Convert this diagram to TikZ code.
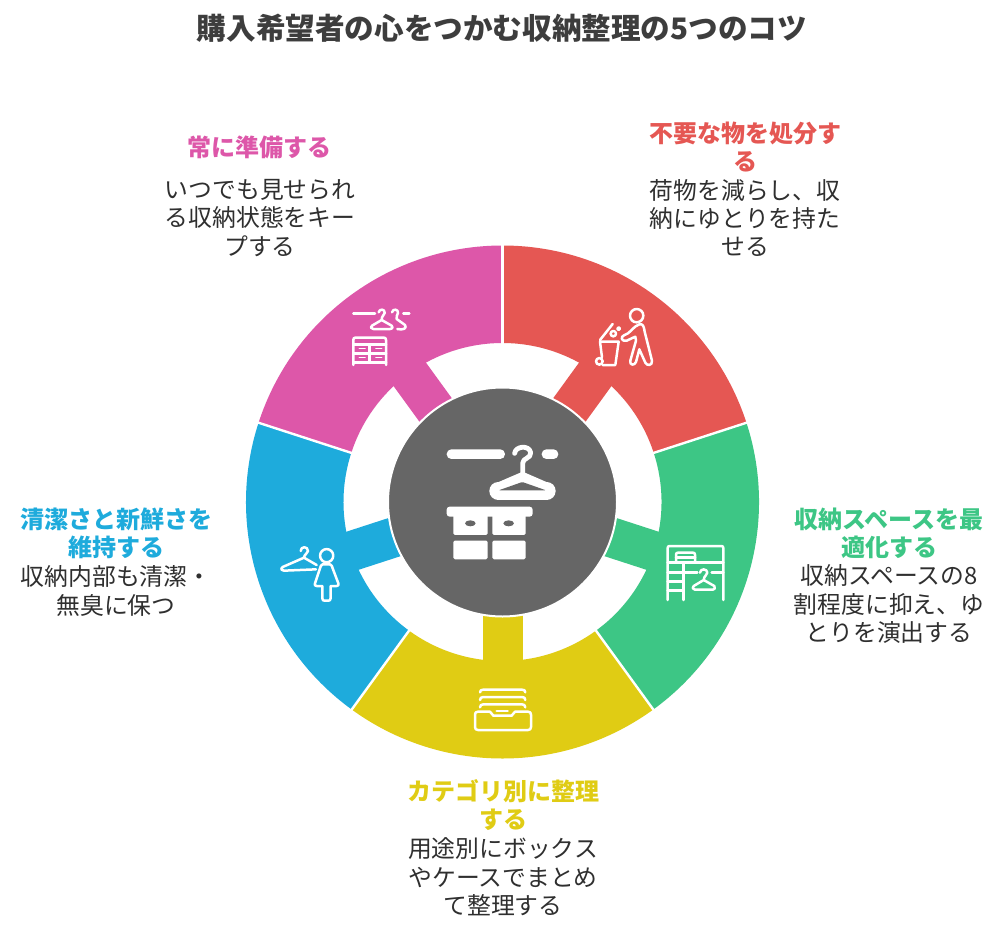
\documentclass[tikz,border=0pt]{standalone}
\usepackage{fontspec}
\setmainfont{Noto Sans CJK JP}
\definecolor{cred}{HTML}{E55753}
\definecolor{cgreen}{HTML}{3DC685}
\definecolor{cyellow}{HTML}{E0CC14}
\definecolor{cblue}{HTML}{1EABDC}
\definecolor{cpink}{HTML}{DD57A9}
\definecolor{ccenter}{HTML}{666666}
\definecolor{ctitle}{HTML}{3D3D3D}
\definecolor{ctext}{HTML}{2F2F2F}
\tikzset{
  headtext/.style={inner sep=0pt,align=center,font=\fontsize{24}{28}\selectfont\bfseries},
  bodytext/.style={inner sep=0pt,align=center,text=ctext,font=\fontsize{23.8}{28.4}\selectfont},
  titletext/.style={inner sep=0pt,text=ctitle,font=\fontsize{29.6}{34}\selectfont\bfseries},
  iconline/.style={draw=white,line width=2.5pt,line cap=round,line join=round},
  zoomed/.style={shift={(#1)},x=0.3333pt,y=-0.3333pt}
}
\newcommand{\ringseg}[3]{%
  \fill[#1] (#2:256.5pt) arc[start angle=#2,end angle=#3,radius=256.5pt]
     -- (#3:159pt) arc[start angle=#3,end angle=#2,radius=159pt] -- cycle;
}
\begin{document}
\begin{tikzpicture}[x=1pt,y=1pt]
\useasboundingbox (0,-945) rectangle (1000,0);
\fill[white] (0,-945) rectangle (1000,0);
\node[titletext] (title) at (502,-28) {購入希望者の心をつかむ収納整理の5つのコツ};

% ring
\begin{scope}[shift={(502.5pt,-502pt)}]
\ringseg{cred}{18}{90}
\ringseg{cgreen}{-54}{18}
\ringseg{cyellow}{-126}{-54}
\ringseg{cblue}{162}{234}
\ringseg{cpink}{90}{162}
\draw[cred,line width=40pt] (54:100pt) -- (54:165pt);
\draw[cgreen,line width=40pt] (-18:100pt) -- (-18:165pt);
\draw[cyellow,line width=40pt] (-90:100pt) -- (-90:165pt);
\draw[cblue,line width=40pt] (198:100pt) -- (198:165pt);
\draw[cpink,line width=40pt] (126:100pt) -- (126:165pt);
\foreach \a in {90,18,-54,-126,162} \draw[white,line width=2.4pt] (\a:155pt) -- (\a:259pt);
\node[circle,fill=ccenter,draw=white,line width=2pt,minimum size=229pt,inner sep=0pt] (hub) at (0,0) {};
\end{scope}

% centre icon
\begin{scope}[zoomed={340pt,-290pt}]
\fill[white,rounded corners=4.7pt] (320,478) rectangle (495,507);
\fill[white,rounded corners=4.7pt] (605,478) rectangle (655,507);
\draw[white,line width=4.8pt,line cap=round,line join=round] (524,490) .. controls (526,468) and (568,464) .. (572,488) .. controls (574,506) and (548,503) .. (548,520) -- (548,550);
\fill[white] (548,545) -- (640,585) -- (620,630) -- (475,630) -- (455,585) -- cycle;
\fill[white] (475,603) circle[radius=9pt];
\fill[white] (620,603) circle[radius=9pt];
\fill[ccenter,rounded corners=1pt] (476,601) -- (547,576) -- (618,601) -- cycle;
\fill[white,rounded corners=3pt] (320,650) rectangle (578,680);
\fill[white,rounded corners=1.5pt] (340,670) rectangle (443,735);
\fill[white,rounded corners=1.5pt] (457,670) rectangle (557,735);
\fill[white,rounded corners=1.5pt] (340,752) rectangle (443,808);
\fill[white,rounded corners=1.5pt] (457,752) rectangle (557,808);
\fill[ccenter] (391,700) ellipse[x radius=5.3pt,y radius=3pt];
\fill[ccenter] (506,700) ellipse[x radius=5.3pt,y radius=3pt];
\fill[ccenter] (443,680) rectangle (457,735);
\end{scope}

% red icon
\begin{scope}[zoomed={580pt,-300pt},iconline]
\draw (170,47) circle[radius=20];
\draw (132,106) .. controls (150,102) and (160,78) .. (178,73) .. controls (190,70) and (192,82) .. (194,95) -- (216,182) .. controls (218,198) and (200,198) .. (196,188) -- (178,148) -- (168,186) .. controls (163,198) and (148,196) .. (151,182) -- (168,122) -- (166,110) -- (140,122) .. controls (125,126) and (120,110) .. (132,106) -- cycle;
\draw (60,120) -- (98,72);
\draw (60,125) -- (116,125) -- (106,195) -- (68,195);
\draw (60,125) -- (66,172);
\draw (58,184) circle[radius=3.3pt];
\draw (100,101) circle[radius=2.7pt];
\draw (116,86) circle[radius=1.3pt];
\end{scope}

% pink icon
\begin{scope}[zoomed={340pt,-295pt},iconline]
\draw (40,56) -- (105,56);
\draw (190,56) -- (208,56);
\draw (116,52) .. controls (118,40) and (136,42) .. (134,54) .. controls (132,62) and (125,62) .. (125,75) -- (155,92) .. controls (160,100) and (155,102) .. (150,102) -- (100,102) .. controls (92,102) and (90,94) .. (96,92) -- (125,75);
\draw (156,52) .. controls (158,40) and (176,42) .. (174,54) .. controls (172,62) and (168,62) .. (170,72) -- (195,90) .. controls (202,100) and (190,106) .. (172,102);
\draw (40,210) -- (40,135) .. controls (40,130) and (42,128) .. (46,128) -- (132,128) .. controls (136,128) and (138,130) .. (138,135) -- (138,210);
\draw (40,148) -- (138,148);
\draw (40,203) -- (138,203);
\draw (40,176) -- (138,176);
\draw (89,148) -- (89,203);
\foreach \hx in {58,108} \foreach \hy in {160,188} \draw[line width=1.6pt] (\hx,\hy) -- ++(17,0);
\end{scope}

% green icon
\begin{scope}[zoomed={650pt,-530pt},iconline]
\draw (53,210) -- (53,54) .. controls (53,50) and (55,48) .. (59,48) -- (214,48) .. controls (218,48) and (220,50) .. (220,54) -- (220,210);
\draw (53,98) -- (220,98);
\draw (78,98) -- (78,74) .. controls (78,70) and (80,68) .. (84,68) -- (129,68) .. controls (133,68) and (135,70) .. (135,74) -- (135,98);
\draw (78,83) -- (135,83);
\draw (100,98) -- (100,210);
\draw (53,128) -- (142,128);
\draw (185,128) -- (220,128);
\draw (53,155) -- (100,155);
\draw (53,182) -- (100,182);
\draw (150,128) .. controls (150,115) and (172,115) .. (172,128) .. controls (172,136) and (162,136) .. (161,150) -- (193,168) .. controls (198,175) and (193,179) .. (188,179) -- (135,179) .. controls (128,179) and (125,171) .. (131,168) -- (161,150);
\end{scope}

% yellow icon
\begin{scope}[zoomed={460pt,-675pt},iconline]
\draw (60,52) .. controls (60,46) and (64,44) .. (70,44) -- (186,44) .. controls (192,44) and (196,46) .. (196,52);
\draw (60,75) .. controls (60,69) and (64,66) .. (70,66) -- (186,66) .. controls (192,66) and (196,69) .. (196,75);
\draw (60,97) .. controls (60,91) and (64,88) .. (70,88) -- (186,88) .. controls (192,88) and (196,91) .. (196,97);
\draw (110,108) -- (143,108);
\draw (54,110) -- (90,110) -- (100,122) -- (155,122) -- (165,110) -- (204,110) .. controls (210,110) and (213,113) .. (213,119) -- (213,156) .. controls (213,162) and (210,165) .. (204,165) -- (54,165) .. controls (48,165) and (45,162) .. (45,156) -- (45,119) .. controls (45,113) and (48,110) .. (54,110) -- cycle;
\end{scope}

% blue icon
\begin{scope}[zoomed={270pt,-535pt},iconline]
\draw (170,62) circle[radius=6.6pt];
\draw (92,48) .. controls (92,33) and (114,33) .. (114,48) .. controls (114,56) and (103,56) .. (102,68) -- (140,90);
\draw (102,68) -- (38,96) .. controls (30,102) and (36,108) .. (42,107) -- (138,103);
\draw (158,88) -- (180,88) .. controls (186,90) and (186,94) .. (188,100) -- (205,145) .. controls (207,150) and (205,153) .. (200,153) -- (182,153) -- (182,190) .. controls (182,196) and (178,197) .. (175,197) -- (164,197) .. controls (160,197) and (157,196) .. (157,190) -- (157,153) -- (140,153) .. controls (135,153) and (133,150) .. (135,145) -- (150,100) .. controls (152,94) and (152,90) .. (158,88) -- cycle;
\end{scope}

% labels
\node[headtext,text=cpink] (h1) at (259,-147) {常に準備する};
\node[bodytext] (b1) at (260,-218) {いつでも見せられ\\る収納状態をキー\\プする};
\node[headtext,text=cred] (h2) at (745,-147) {不要な物を処分す\\る};
\node[bodytext] (b2) at (745,-218) {荷物を減らし、収\\納にゆとりを持た\\せる};
\node[headtext,text=cgreen] (h3) at (889,-533) {収納スペースを最\\適化する};
\node[bodytext] (b3) at (889,-604) {収納スペースの8\\割程度に抑え、ゆ\\とりを演出する};
\node[headtext,text=cyellow] (h4) at (503,-805) {カテゴリ別に整理\\する};
\node[bodytext] (b4) at (503,-877) {用途別にボックス\\やケースでまとめ\\て整理する};
\node[headtext,text=cblue] (h5) at (116,-533) {清潔さと新鮮さを\\維持する};
\node[bodytext] (b5) at (116,-591) {収納内部も清潔・\\無臭に保つ};
\end{tikzpicture}
\end{document}
